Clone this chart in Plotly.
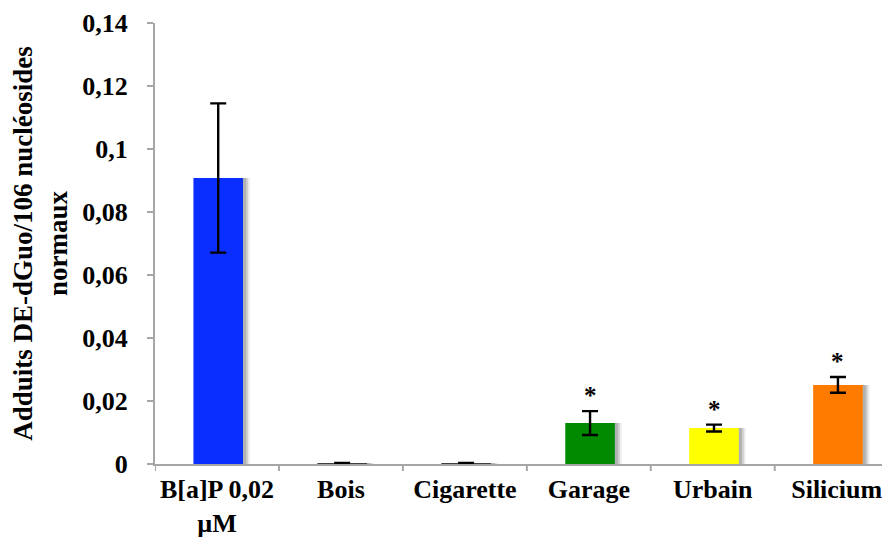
import plotly.graph_objects as go

categories = ["B[a]P 0,02<br>µM", "Bois", "Cigarette", "Garage", "Urbain", "Silicium"]
values = [0.0908, 0.0003, 0.0003, 0.0130, 0.0114, 0.0251]
errors = [0.0237, 0.0, 0.0, 0.0038, 0.0011, 0.0025]
colors = ["#0a2eff", "#404040", "#404040", "#008a00", "#ffff00", "#ff7b00"]
significant = ["", "", "", "*", "*", "*"]
ytick_vals = [0, 0.02, 0.04, 0.06, 0.08, 0.1, 0.12, 0.14]
ytick_text = ["0", "0,02", "0,04", "0,06", "0,08", "0,1", "0,12", "0,14"]

font_family = "Liberation Serif"
xs = list(range(len(categories)))

fig = go.Figure()
# soft shadow layers
for off, alpha in [(0.065, 0.08), (0.05, 0.12), (0.035, 0.14)]:
    fig.add_trace(go.Bar(
        x=xs, y=values, width=0.4, offset=-0.2 + off,
        marker=dict(color=f"rgba(0,0,0,{alpha})", line=dict(width=0)),
        hoverinfo="skip", showlegend=False))
fig.add_trace(go.Bar(
    x=xs, y=values, width=0.4, offset=-0.19,
    marker=dict(color=colors, line=dict(width=0)),
    error_y=dict(type="data", array=errors, color="black", thickness=2.4, width=8,
                 visible=True),
    showlegend=False))

for i, (v, e, s) in enumerate(zip(values, errors, significant)):
    if s:
        fig.add_annotation(x=i + 0.01, y=v + e, text="<b>*</b>", showarrow=False,
                           yanchor="bottom", yshift=0,
                           font=dict(family=font_family, size=25, color="black"))

fig.update_layout(
    width=882, height=536,
    margin=dict(l=147, r=0, t=15, b=80),
    paper_bgcolor="white", plot_bgcolor="white",
    barmode="overlay",
    font=dict(family=font_family, size=24, color="black"),
    xaxis=dict(
        range=[-0.5, 5.43], automargin=False,
        tickvals=xs, ticktext=["<b>" + c.replace("<br>", "</b><br><b>") + "</b>" for c in categories],
        showline=True, linecolor="#a6a6a6", linewidth=2,
        ticks="", showgrid=False, zeroline=False, ticklabelstandoff=1,
        tickfont=dict(family=font_family, size=26, color="black"),
    ),
    yaxis=dict(
        range=[0, 0.14], automargin=False,
        tickvals=ytick_vals, ticktext=["<b>" + t + "</b>" for t in ytick_text],
        showline=True, linecolor="#a6a6a6", linewidth=2,
        ticks="outside", ticklen=6, tickcolor="#a6a6a6", tickwidth=2,
        showgrid=False, zeroline=False, ticklabelstandoff=14,
        tickfont=dict(family=font_family, size=26, color="black"),
        title=dict(text="<b>Adduits DE-dGuo/106 nucléosides<br>normaux</b>",
                   font=dict(family=font_family, size=27, color="black"), standoff=16),
    ),
)
# category boundary ticks on x axis
for b in [-0.5, 0.5, 1.5, 2.5, 3.5, 4.5]:
    fig.add_shape(type="line", xref="x", yref="paper", x0=b, x1=b, y0=0, y1=-0.016,
                  line=dict(color="#a6a6a6", width=2))

fig.write_html("out.html")
